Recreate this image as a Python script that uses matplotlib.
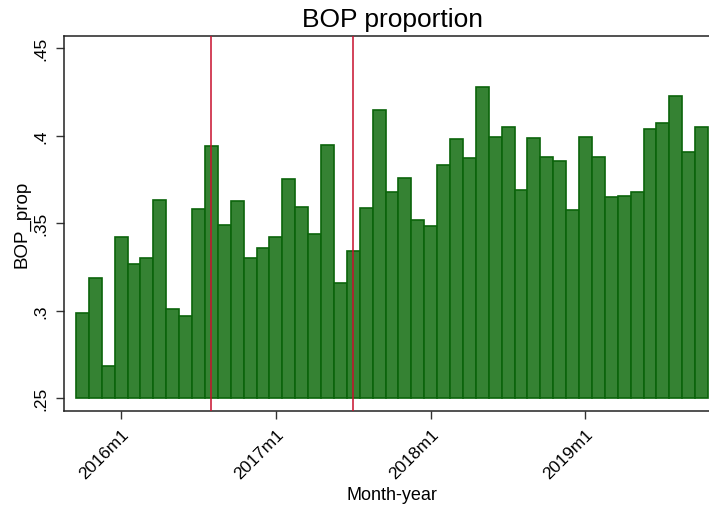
import matplotlib
matplotlib.use("Agg")
import matplotlib.pyplot as plt
import numpy as np

plt.rcParams['font.family'] = ['Liberation Sans', 'DejaVu Sans']

start_year, start_month = 2015, 10
values = [0.2985, 0.3185, 0.2686, 0.3419, 0.3265, 0.3303, 0.3634, 0.3012, 0.2970, 0.3579,
          0.3942, 0.3491, 0.3625, 0.3300, 0.3356, 0.3423, 0.3750, 0.3591, 0.3440, 0.3946,
          0.3157, 0.3341, 0.3587, 0.4143, 0.3678, 0.3758, 0.3516, 0.3484, 0.3834, 0.3979,
          0.3870, 0.4276, 0.3990, 0.4047, 0.3691, 0.3984, 0.3876, 0.3853, 0.3574, 0.3990,
          0.3876, 0.3648, 0.3654, 0.3680, 0.4038, 0.4070, 0.4225, 0.3905, 0.4051]
vlines = ["2016m8", "2017m7"]
xticks = ["2016m1", "2017m1", "2018m1", "2019m1"]
yticks = [0.25, 0.30, 0.35, 0.40, 0.45]
ytick_labels = [".25", ".3", ".35", ".4", ".45"]
base = 0.25

def month_index(label):
    y, m = label.split("m")
    return (int(y) - start_year) * 12 + (int(m) - start_month)

x = np.arange(len(values))
fig = plt.figure(figsize=(7.09, 5.06), dpi=100)
ax_left, ax_right = 64 / 709, 720 / 709
ax = fig.add_axes([ax_left, 1 - 412/506, ax_right - ax_left, (412 - 36.7)/506])

ax.bar(x, np.array(values) - base, bottom=base, width=1.0,
       color='#358233', edgecolor='#0b640b', linewidth=1.2, zorder=2)
for v in vlines:
    ax.axvline(month_index(v), color='#c8102e', linewidth=1.1, zorder=3)

ax.set_xlim(-1.43, len(values) - 1 + 1.43)
ax.set_ylim(0.2427, 0.457)
ax.set_yticks(yticks)
ax.set_yticklabels(ytick_labels, rotation=90, va='center', fontsize=12.5)
ax.set_xticks([month_index(t) for t in xticks])
ax.set_xticklabels(xticks, rotation=45, ha='right', rotation_mode='anchor', fontsize=12.5)
ax.tick_params(axis='both', direction='out', length=6, width=1, color='#333333', pad=5)
for s in ax.spines.values():
    s.set_linewidth(1.1)
    s.set_color('#222222')

ax.set_title("BOP proportion", fontsize=19, pad=7)
fig.text((ax_left + ax_right) / 2, 5.5 / 506, "Month-year", fontsize=13,
         ha='center', va='baseline')
ax.set_ylabel("BOP_prop", fontsize=13.5, labelpad=2)

fig.savefig("out.png", dpi=100)
